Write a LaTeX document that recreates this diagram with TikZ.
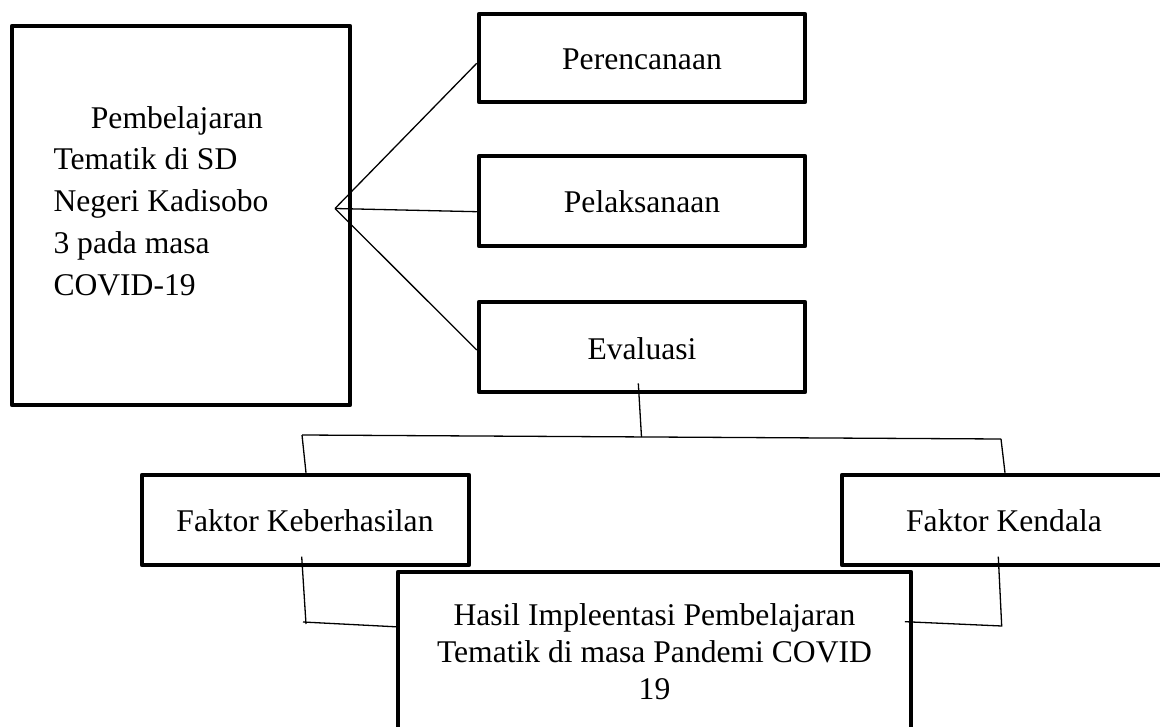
\documentclass[tikz,border=0pt]{standalone}
\usepackage{fontspec}
\setmainfont{Liberation Serif}
\begin{document}
\begin{tikzpicture}[x=1pt,y=-1pt,
  box/.style={draw, line width=4.5pt, line join=round, inner sep=0pt},
  conn/.style={line width=1.3pt},
  txt/.style={font=\fontsize{31.6}{37}\selectfont, inner sep=0pt}]
\clip (0,0) rectangle (1160,727);
\fill[white] (0,0) rectangle (1160,727);

% boxes
\node[box, minimum width=338, minimum height=379] (main) at (181,215.5) {};
\node[box, minimum width=326, minimum height=88] (per) at (642,58) {};
\node[box, minimum width=326, minimum height=90] (pel) at (642,201) {};
\node[box, minimum width=326, minimum height=90] (eva) at (642,347) {};
\node[box, minimum width=327, minimum height=90] (fkb) at (305.5,520) {};
\node[box, minimum width=328, minimum height=90] (fkd) at (1006,520) {};
\node[box, fill=white, minimum width=513, minimum height=188] (has) at (654.5,666) {};

% texts
\node[txt, font=\fontsize{31.6}{41.7}\selectfont, align=left, anchor=north west] (mainT) at (53.3,106.1)
  {\hspace*{37.4pt}Pembelajaran\\Tematik di SD\\Negeri Kadisobo\\3 pada masa\\COVID-19};
\node[txt, anchor=base] (perT) at (642,70) {Perencanaan};
\node[txt, anchor=base] (pelT) at (642,212.3) {Pelaksanaan};
\node[txt, anchor=base] (evaT) at (642,359.3) {Evaluasi};
\node[txt, anchor=base] (fkbT) at (305,531.7) {Faktor Keberhasilan};
\node[txt, anchor=base] (fkdT) at (1004,531.7) {Faktor Kendala};
\node[txt, align=center, anchor=north] (hasT) at (654.5,603.4)
  {Hasil Impleentasi Pembelajaran\\Tematik di masa Pandemi COVID\\19};

% connectors
\coordinate (hub) at (335,208.5);
\draw[conn] (hub) -- ([yshift=-5.3pt]per.west);
\draw[conn] (hub) -- ([yshift=-10.7pt]pel.west);
\draw[conn] (hub) -- ([yshift=-3pt]eva.west);

\coordinate (evaIn) at (638.3,383.3);
\coordinate (junc) at (641.5,437);
\coordinate (hl) at (302,435);
\coordinate (hr) at (1001,439);
\draw[conn] (evaIn) -- (junc);
\draw[conn] (hl) -- (hr);
\draw[conn] (hl) -- ([xshift=0.5pt]fkb.north);
\draw[conn] (hr) -- ([xshift=-1pt]fkd.north);

\coordinate (fkbIn) at (301.7,556.7);
\coordinate (fkbC) at (306,624);
\coordinate (fkbC2) at (303,622);
\draw[conn] (fkbIn) -- (fkbC);
\draw[conn] (fkbC2) -- ([xshift=4pt,yshift=39pt]has.west);

\coordinate (fkdIn) at (998.3,556.7);
\coordinate (fkdC) at (1001.7,626);
\draw[conn] (fkdIn) -- (fkdC) -- ([xshift=-8.3pt,yshift=44.3pt]has.east);
\end{tikzpicture}
\end{document}
